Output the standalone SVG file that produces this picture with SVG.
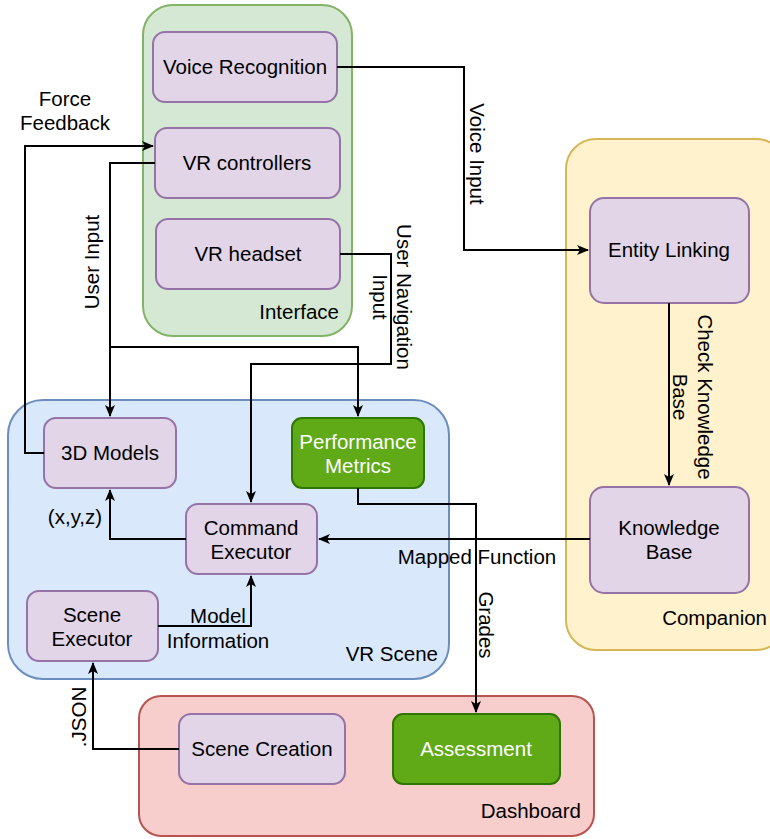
<svg xmlns="http://www.w3.org/2000/svg" width="770" height="839" viewBox="0 0 770 839">
<style>
text{font-family:"Liberation Sans",Arial,Helvetica,sans-serif;font-size:20.5px;fill:#000;}
.c{text-anchor:middle;}
.r{text-anchor:end;}
.w{fill:#fff;}
.node{fill:#e1d5e7;stroke:#9673a6;stroke-width:2;}
.gnode{fill:#60a917;stroke:#2d7600;stroke-width:2;}
.edge{fill:none;stroke:#000;stroke-width:2;}
</style>
<defs>
<marker id="arr" markerWidth="12" markerHeight="10" refX="11" refY="5" orient="auto" markerUnits="userSpaceOnUse">
<path d="M0,0 L12,5 L0,10 L3,5 z" fill="#000"/>
</marker>
</defs>
<rect width="770" height="839" fill="#fff"/>

<!-- containers -->
<g id="interface">
<rect x="143" y="5" width="209" height="331" rx="30" fill="#d5e8d4" stroke="#82b366" stroke-width="2"/>
<text class="r" x="339" y="319">Interface</text>
</g>
<g id="companion">
<rect x="566" y="139" width="220" height="511" rx="30" fill="#fff2cc" stroke="#d6b656" stroke-width="2"/>
<text class="r" x="767" y="625">Companion</text>
</g>
<g id="vrscene">
<rect x="8" y="400" width="441" height="279" rx="35" fill="#dae8fc" stroke="#6c8ebf" stroke-width="2"/>
<text class="r" x="438" y="661">VR Scene</text>
</g>
<g id="dashboard">
<rect x="139" y="696" width="455" height="140" rx="22" fill="#f8cecc" stroke="#b85450" stroke-width="2"/>
<text class="r" x="581" y="818">Dashboard</text>
</g>

<!-- nodes -->
<g id="voice-recognition">
<rect class="node" x="153" y="32" width="184" height="70" rx="12"/>
<text class="c" x="245" y="74">Voice Recognition</text>
</g>
<g id="vr-controllers">
<rect class="node" x="155" y="128" width="185" height="70" rx="12"/>
<text class="c" x="247" y="170">VR controllers</text>
</g>
<g id="vr-headset">
<rect class="node" x="156" y="219" width="184" height="70" rx="12"/>
<text class="c" x="248" y="261">VR headset</text>
</g>
<g id="entity-linking">
<rect class="node" x="590" y="198" width="159" height="105" rx="14"/>
<text class="c" x="669" y="257">Entity Linking</text>
</g>
<g id="knowledge-base">
<rect class="node" x="590" y="487" width="159" height="106" rx="14"/>
<text class="c" x="669" y="535">Knowledge</text>
<text class="c" x="669" y="559">Base</text>
</g>
<g id="models-3d">
<rect class="node" x="44" y="418" width="132" height="70" rx="12"/>
<text class="c" x="110" y="460">3D Models</text>
</g>
<g id="performance-metrics">
<rect class="gnode" x="292" y="418" width="132" height="70" rx="10"/>
<text class="c w" x="358" y="449">Performance</text>
<text class="c w" x="358" y="473">Metrics</text>
</g>
<g id="command-executor">
<rect class="node" x="186" y="504" width="131" height="70" rx="12"/>
<text class="c" x="251" y="535">Command</text>
<text class="c" x="251" y="559">Executor</text>
</g>
<g id="scene-executor">
<rect class="node" x="27" y="591" width="131" height="70" rx="12"/>
<text class="c" x="92" y="622">Scene</text>
<text class="c" x="92" y="646">Executor</text>
</g>
<g id="scene-creation">
<rect class="node" x="179" y="714" width="166" height="70" rx="12"/>
<text class="c" x="262" y="756">Scene Creation</text>
</g>
<g id="assessment">
<rect class="gnode" x="393" y="714" width="167" height="70" rx="10"/>
<text class="c w" x="476" y="756">Assessment</text>
</g>

<!-- connectors -->
<g id="connectors">
<path class="edge" d="M337,67 H464 V250 H588" marker-end="url(#arr)"/>
<path class="edge" d="M44,453 H25 V146 H153" marker-end="url(#arr)"/>
<path class="edge" d="M155,163 H110 V416" marker-end="url(#arr)"/>
<path class="edge" d="M110,347 H358 V416" marker-end="url(#arr)"/>
<path class="edge" d="M340,254 H391 V364 H251 V502" marker-end="url(#arr)"/>
<path class="edge" d="M669,303 V485" stroke="#333" marker-end="url(#arr)"/>
<path class="edge" d="M590,539 H319" marker-end="url(#arr)"/>
<path class="edge" d="M358,488 V504 H476 V712" marker-end="url(#arr)"/>
<path class="edge" d="M186,539 H110 V490" marker-end="url(#arr)"/>
<path class="edge" d="M158,626 H251 V576" marker-end="url(#arr)"/>
<path class="edge" d="M179,749 H93 V663" marker-end="url(#arr)"/>

<text class="c" x="65" y="106">Force</text>
<text class="c" x="65" y="130">Feedback</text>
<text class="c" transform="translate(92,262) rotate(-90)" x="0" y="7">User Input</text>
<text class="c" transform="translate(477,154) rotate(90)" x="0" y="7">Voice Input</text>
<g transform="translate(391.5,297) rotate(90)">
<text class="c" x="0" y="-5">User Navigation</text>
<text class="c" x="0" y="19">Input</text>
</g>
<g transform="translate(692.5,397) rotate(90)">
<text class="c" x="0" y="-5">Check Knowledge</text>
<text class="c" x="0" y="20">Base</text>
</g>
<text class="c" x="477" y="564">Mapped Function</text>
<text class="c" transform="translate(486,625) rotate(90)" x="0" y="7">Grades</text>
<text class="c" x="75" y="524">(x,y,z)</text>
<text class="c" x="218" y="623">Model</text>
<text class="c" x="218" y="648">Information</text>
<text class="c" transform="translate(79,717) rotate(-90)" x="0" y="7">.JSON</text>
</g>
</svg>
